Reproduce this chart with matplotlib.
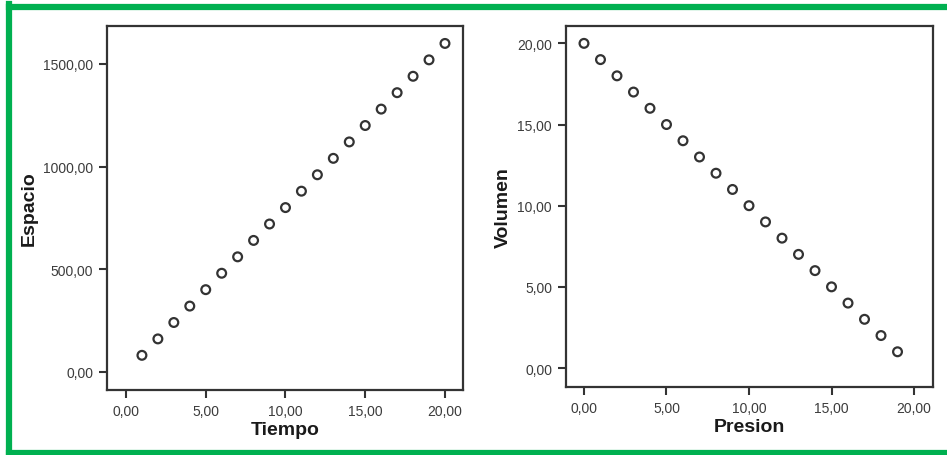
import numpy as np
import matplotlib.pyplot as plt
from matplotlib.lines import Line2D
from matplotlib.ticker import FuncFormatter

plt.rcParams['font.family'] = ['Liberation Sans', 'DejaVu Sans']

tiempo = [1, 2, 3, 4, 5, 6, 7, 8, 9, 10, 11, 12, 13, 14, 15, 16, 17, 18, 19, 20]
espacio = [80, 160, 240, 320, 400, 480, 560, 640, 720, 800,
           880, 960, 1040, 1120, 1200, 1280, 1360, 1440, 1520, 1600]
presion = [0, 1, 2, 3, 4, 5, 6, 7, 8, 9, 10, 11, 12, 13, 14, 15, 16, 17, 18, 19]
volumen = [20, 19, 18, 17, 16, 15, 14, 13, 12, 11, 10, 9, 8, 7, 6, 5, 4, 3, 2, 1]

W, H = 947, 456
fig = plt.figure(figsize=(W / 100, H / 100), dpi=100)

ink = '#333333'
comma = FuncFormatter(lambda v, p: f"{v:.2f}".replace('.', ','))


def panel(box, x, y, xlim, ylim, xticks, yticks, xlabel, ylabel):
    l, t, r, b = box
    ax = fig.add_axes([l / W, 1 - b / H, (r - l) / W, (b - t) / H])
    ax.scatter(x, y, s=40, facecolors='none', edgecolors=ink, linewidths=1.6, zorder=3)
    ax.set_xlim(*xlim)
    ax.set_ylim(*ylim)
    ax.set_xticks(xticks)
    ax.set_yticks(yticks)
    ax.xaxis.set_major_formatter(comma)
    ax.yaxis.set_major_formatter(comma)
    for s in ax.spines.values():
        s.set_color(ink)
        s.set_linewidth(1.6)
    ax.tick_params(direction='out', length=6, width=1.5, color=ink,
                   labelsize=10, labelcolor='#3c3c3c', pad=4)
    ax.set_xlabel(xlabel, fontsize=14, fontweight='bold', color='#1a1a1a', labelpad=2)
    ax.set_ylabel(ylabel, fontsize=14, fontweight='bold', color='#1a1a1a', labelpad=4)
    return ax


panel((107, 27, 463, 391), tiempo, espacio, (-1.19, 21.13), (-89, 1685),
      [0, 5, 10, 15, 20], [0, 500, 1000, 1500], 'Tiempo', 'Espacio')
panel((566, 27, 933, 388), presion, volumen, (-1.09, 21.15), (-1.17, 21.07),
      [0, 5, 10, 15, 20], [0, 5, 10, 15, 20], 'Presion', 'Volumen')

# green frame (top, left, bottom)
green = '#00b050'
fig.add_artist(Line2D([9 / W, 1], [1 - 7.5 / H, 1 - 7.5 / H], color=green, lw=4.5,
                      transform=fig.transFigure))
fig.add_artist(Line2D([9 / W, 9 / W], [1 - 5 / H, 1 - 455 / H], color=green, lw=4.5,
                      transform=fig.transFigure))
fig.add_artist(Line2D([9 / W, 1], [1 - 454 / H, 1 - 454 / H], color=green, lw=4.5,
                      transform=fig.transFigure))

fig.savefig('out.png', dpi=100)
